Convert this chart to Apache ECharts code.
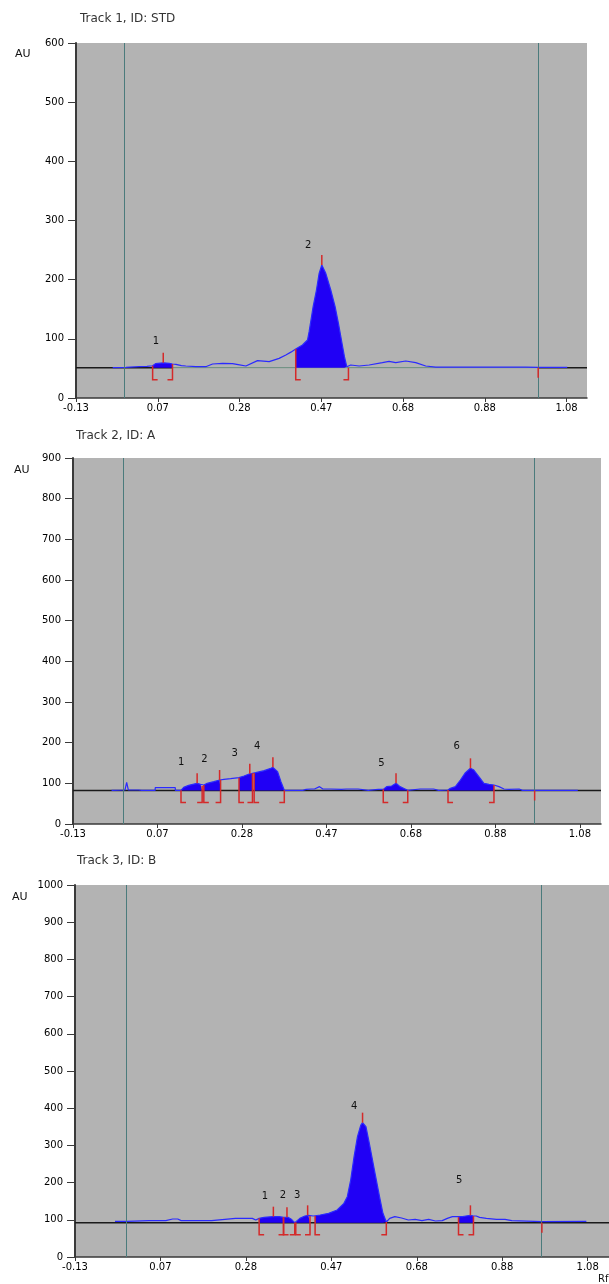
<!DOCTYPE html>
<html><head><meta charset="utf-8">
<script src="https://cdn.jsdelivr.net/npm/echarts@6/dist/echarts.min.js"></script>
<style>html,body{margin:0;padding:0;background:#fff}#c{width:609px;height:1284px}</style>
</head><body><div id="c"></div>
<script>
// ---------- shared axis data ----------
const xTickValues = [-0.13, 0.0717, 0.2733, 0.475, 0.6767, 0.8783, 1.08];
const xTickLabels = ['-0.13', '0.07', '0.28', '0.47', '0.68', '0.88', '1.08'];
const xRange = [-0.13, 1.1304];
const yMaxes = [600, 900, 1000];
const yInterval = 100;
const trackTitles = ['Track 1, ID: STD', 'Track 2, ID: A', 'Track 3, ID: B'];

// ---------- Track 1 (STD) ----------
const curve1 = [[-0.0396,51.3],[-0.0068,51.6],[0.026,52.9],[0.045,53.5],[0.059,54.5],[0.066,58.0],[0.0852,59.5],[0.100,58.6],[0.108,57.5],[0.1165,56.9],[0.130,54.7],[0.141,54.1],[0.1657,52.9],[0.190,52.9],[0.2068,57.5],[0.2315,58.6],[0.256,58.0],[0.270,56.5],[0.289,54.1],[0.3177,63.1],[0.3465,61.4],[0.371,67.0],[0.3876,72.7],[0.400,77.5],[0.412,82.8],[0.4286,89.6],[0.441,98.0],[0.445,112.1],[0.4549,154.4],[0.4631,182.5],[0.4697,210.7],[0.4763,224.8],[0.4861,210.7],[0.4984,182.5],[0.5091,154.4],[0.5173,126.2],[0.5247,98.0],[0.5321,69.9],[0.5379,52.9],[0.542,51.3],[0.5477,55.8],[0.5683,54.1],[0.593,55.8],[0.6258,59.7],[0.6422,61.9],[0.6586,59.7],[0.6833,62.5],[0.708,59.7],[0.7326,54.1],[0.7572,52.3],[0.8558,52.3],[0.979,52.3],[1.01,51.6],[1.0817,51.6]];
const baseline1 = 51.3;
const peakStart1 = [0.059, 0.412];
const peakEnd1 = [0.108, 0.542];
const peakMaxX1 = [0.0852, 0.4763];
const peakMaxY1 = [59.5, 224.8];
const peakLabel1 = ['1', '2'];
const peakLabelX1 = [0.0672, 0.4425];
const peakLabelY1 = [96.3, 257.4];
const startLine1 = -0.0068, frontLine1 = 1.01;

// ---------- Track 2 (A) ----------
const curve2 = [[-0.0379,82.8],[-0.0059,83.6],[-0.0019,102.5],[0.0021,83.6],[0.0261,83.6],[0.0301,85.2],[0.0341,82.8],[0.0662,82.8],[0.0662,89.3],[0.1142,89.3],[0.1142,82.8],[0.1278,82.8],[0.1342,90.1],[0.1462,95.1],[0.1663,100.0],[0.1743,97.6],[0.1783,93.4],[0.1823,95.9],[0.1903,100.0],[0.2063,104.1],[0.2199,108.2],[0.2223,108.2],[0.2303,109.8],[0.2463,111.5],[0.2663,113.9],[0.2784,118.0],[0.2904,122.9],[0.292,123.5],[0.2984,124.6],[0.3024,125.5],[0.3064,126.2],[0.3264,131.1],[0.3424,136.9],[0.3472,139.3],[0.3584,128.7],[0.3664,104.1],[0.3744,82.8],[0.4185,82.8],[0.4185,85.2],[0.4265,85.2],[0.4265,82.8],[0.4385,86.1],[0.4465,86.1],[0.4585,91.8],[0.4665,86.1],[0.4865,86.1],[0.5106,85.2],[0.5226,86.1],[0.5506,86.1],[0.5746,82.8],[0.5986,85.2],[0.6106,85.2],[0.6187,91.8],[0.6307,93.4],[0.6411,100.0],[0.6507,91.8],[0.6627,86.1],[0.6691,82.8],[0.6987,86.1],[0.7308,86.1],[0.7428,82.8],[0.7652,83.6],[0.7708,87.7],[0.7828,91.8],[0.7948,108.2],[0.8068,126.2],[0.8188,136.9],[0.8268,132.8],[0.8388,116.4],[0.8509,100.0],[0.8629,97.6],[0.8749,95.9],[0.8869,91.8],[0.8989,86.1],[0.9109,85.2],[0.9349,86.1],[0.9429,82.8],[0.972,82.8],[1.075,82.8]];
const baseline2 = 82.4;
const peakStart2 = [0.1278, 0.1823, 0.2663, 0.3024, 0.6106, 0.7652];
const peakEnd2 = [0.1783, 0.2223, 0.2984, 0.3744, 0.6691, 0.8749];
const peakMaxX2 = [0.1663, 0.2199, 0.292, 0.3472, 0.6411, 0.8188];
const peakMaxY2 = [100.0, 108.2, 123.5, 139.3, 100.0, 136.9];
const peakLabel2 = ['1', '2', '3', '4', '5', '6'];
const peakLabelX2 = [0.1285, 0.184, 0.256, 0.3097, 0.606, 0.7856];
const peakLabelY2 = [150.7, 160, 174.6, 190, 150, 190];
const startLine2 = -0.0063, frontLine2 = 0.972;

// ---------- Track 3 (B) ----------
const curve3 = [[-0.0356,95.9],[-0.0075,95.9],[0.0445,97.7],[0.0845,97.7],[0.1005,102.1],[0.1125,102.1],[0.1205,97.7],[0.1926,97.7],[0.2486,103.9],[0.2886,103.9],[0.2966,99.4],[0.3046,103.9],[0.3166,106.6],[0.3366,108.4],[0.3526,108.4],[0.3622,106.6],[0.3727,106.6],[0.3807,101.2],[0.3887,92.3],[0.3911,93.2],[0.4007,103.9],[0.4127,110.2],[0.4207,112.0],[0.4247,110.2],[0.4327,110.2],[0.4367,110.2],[0.4487,112.9],[0.4687,117.4],[0.4887,126.3],[0.5047,144.2],[0.5127,162.1],[0.5207,206.9],[0.5287,269.6],[0.5367,323.4],[0.5447,354.8],[0.5487,361.1],[0.5567,350.3],[0.5647,305.5],[0.5767,233.8],[0.5888,162.1],[0.5968,117.4],[0.6048,94.1],[0.6128,103.9],[0.6248,108.4],[0.6408,104.8],[0.6568,99.4],[0.6728,101.2],[0.6888,97.7],[0.7048,101.2],[0.7208,96.8],[0.7368,97.7],[0.7488,103.9],[0.7608,108.4],[0.7728,108.4],[0.7752,106.6],[0.7848,108.4],[0.7928,110.2],[0.8033,112.0],[0.8105,110.2],[0.8169,110.2],[0.8249,106.6],[0.8409,103.9],[0.8649,101.2],[0.8849,101.2],[0.9009,97.7],[0.972,95.0],[1.077,95.9]];
const baseline3 = 92.3;
const peakStart3 = [0.3046, 0.3622, 0.3911, 0.4367, 0.7752];
const peakEnd3 = [0.3622, 0.3887, 0.4247, 0.6048, 0.8105];
const peakMaxX3 = [0.3382, 0.3703, 0.4191, 0.5487, 0.8033];
const peakMaxY3 = [108.4, 106.6, 112.0, 361.1, 112.0];
const peakLabel3 = ['1', '2', '3', '4', '5'];
const peakLabelX3 = [0.3182, 0.3606, 0.3943, 0.5287, 0.7769];
const peakLabelY3 = [164, 166.7, 166.7, 404, 207];
const startLine3 = -0.0076, frontLine3 = 0.972;

// ---------- styling / layout ----------
const FONT = 'DejaVu Sans';
const BLUE_FILL = '#2000f5';
const BLUE_LINE = '#2a2aff';
const RED = '#d42a2a';
const TEAL = '#4b7b7c';
const GRAY_BG = '#b3b3b3';
const gridsPos = [
  {left: 76, top: 43, width: 511, height: 355},
  {left: 73, top: 458, width: 528, height: 366},
  {left: 75, top: 885, width: 536, height: 372}
];
const titlePos = [{left: 80, top: 13}, {left: 76, top: 430}, {left: 77, top: 855}];
const auPos = [{left: 15, top: 49}, {left: 14, top: 465}, {left: 12, top: 892}];

const panels = [
  {curve: curve1, base: baseline1, ps: peakStart1, pe: peakEnd1, mx: peakMaxX1, my: peakMaxY1, lab: peakLabel1, lx: peakLabelX1, ly: peakLabelY1, start: startLine1, front: frontLine1},
  {curve: curve2, base: baseline2, ps: peakStart2, pe: peakEnd2, mx: peakMaxX2, my: peakMaxY2, lab: peakLabel2, lx: peakLabelX2, ly: peakLabelY2, start: startLine2, front: frontLine2},
  {curve: curve3, base: baseline3, ps: peakStart3, pe: peakEnd3, mx: peakMaxX3, my: peakMaxY3, lab: peakLabel3, lx: peakLabelX3, ly: peakLabelY3, start: startLine3, front: frontLine3}
];

function curveAt(curve, x) {
  const p = curve.find(q => Math.abs(q[0] - x) < 1e-9);
  return p ? p[1] : null;
}

const grid = [], xAxis = [], yAxis = [], series = [], title = [];

panels.forEach((P, i) => {
  grid.push(Object.assign({show: true, backgroundColor: GRAY_BG, borderWidth: 0, containLabel: false}, gridsPos[i]));
  title.push({text: trackTitles[i], left: titlePos[i].left, top: titlePos[i].top, padding: 0,
    textStyle: {fontFamily: FONT, fontSize: 12, fontWeight: 'normal', color: '#333'}});
  title.push({text: 'AU', left: auPos[i].left, top: auPos[i].top, padding: 0,
    textStyle: {fontFamily: FONT, fontSize: 11, fontWeight: 'normal', color: '#111'}});
  xAxis.push({
    type: 'value', gridIndex: i, min: xRange[0], max: xRange[1],
    splitLine: {show: false},
    axisLine: {show: true, onZero: false, lineStyle: {color: '#3a3a3a', width: 1.5}},
    axisTick: {show: true, customValues: xTickValues, length: 4, lineStyle: {color: '#3a3a3a'}},
    axisLabel: {show: true, customValues: xTickValues, margin: 5, color: '#000', fontFamily: FONT, fontSize: 10,
      formatter: v => { const k = xTickValues.findIndex(t => Math.abs(t - v) < 1e-6); return k >= 0 ? xTickLabels[k] : ''; }}
  });
  yAxis.push({
    type: 'value', gridIndex: i, min: 0, max: yMaxes[i], interval: yInterval,
    splitLine: {show: false},
    axisLine: {show: true, onZero: false, lineStyle: {color: '#3a3a3a', width: 2}},
    axisTick: {show: true, length: 8, lineStyle: {color: '#3a3a3a'}},
    axisLabel: {margin: 12, color: '#000', fontFamily: FONT, fontSize: 10, formatter: v => String(v)}
  });

  const common = {xAxisIndex: i, yAxisIndex: i, animation: false, silent: true};

  // baseline
  let baseSegs;
  if (i === 0) {
    baseSegs = [
      [[xRange[0], P.base], [P.pe[0], P.base], '#1a1a1a', 1.5],
      [[P.pe[0], P.base], [P.front, P.base], '#6b8e7f', 1],
      [[P.front, P.base], [xRange[1], P.base], '#1a1a1a', 1.5]
    ];
  } else {
    baseSegs = [[[xRange[0], P.base], [xRange[1], P.base], '#1a1a1a', 1.5]];
  }
  baseSegs.forEach(s => {
    series.push(Object.assign({type: 'line', data: [s[0], s[1]], symbol: 'none', z: 2,
      lineStyle: {color: s[2], width: s[3]}}, common));
  });

  // filled peaks
  P.ps.forEach((s, k) => {
    const e = P.pe[k];
    const seg = P.curve.filter(q => q[0] >= s - 1e-9 && q[0] <= e + 1e-9);
    series.push(Object.assign({type: 'line', data: seg, symbol: 'none', z: 3,
      lineStyle: {width: 0, opacity: 0},
      areaStyle: {color: BLUE_FILL, opacity: 1, origin: P.base}}, common));
  });

  // curve with start/front lines
  series.push(Object.assign({type: 'line', data: P.curve, symbol: 'none', z: 4,
    lineStyle: {color: BLUE_LINE, width: 1.2},
    markLine: {symbol: 'none', silent: true, label: {show: false}, animation: false,
      lineStyle: {color: TEAL, width: 1, type: 'solid'},
      data: [{xAxis: P.start}, {xAxis: P.front}]}}, common));

  // brackets + front marker
  const br = [];
  P.ps.forEach((s, k) => {
    br.push([s, curveAt(P.curve, s) ?? P.base, 1, P.base]);
    const e = P.pe[k];
    br.push([e, curveAt(P.curve, e) ?? P.base, -1, P.base]);
  });
  br.push([P.front, P.base, 0, P.base]);
  series.push(Object.assign({type: 'custom', data: br, z: 6, clip: false,
    renderItem: (params, api) => {
      const x = api.value(0), yt = api.value(1), dir = api.value(2), b = api.value(3);
      const pt = api.coord([x, Math.max(yt, b)]);
      const pb = api.coord([x, b]);
      const yb = pb[1] + (dir === 0 ? 10 : 12);
      const pts = dir === 0 ? [[pt[0], pt[1]], [pt[0], yb]]
        : [[pt[0], pt[1]], [pt[0], yb], [pt[0] + dir * 5, yb]];
      return {type: 'polyline', shape: {points: pts}, style: {stroke: RED, lineWidth: 1.5, fill: null}};
    }}, common));

  // peak maximum ticks
  series.push(Object.assign({type: 'custom', data: P.mx.map((x, k) => [x, P.my[k]]), z: 6,
    renderItem: (params, api) => {
      const p = api.coord([api.value(0), api.value(1)]);
      return {type: 'line', shape: {x1: p[0], y1: p[1], x2: p[0], y2: p[1] - 10}, style: {stroke: RED, lineWidth: 1.5}};
    }}, common));

  // peak number labels
  const labs = P.lab;
  series.push(Object.assign({type: 'custom', data: P.lx.map((x, k) => [x, P.ly[k]]), z: 7,
    renderItem: (params, api) => {
      const p = api.coord([api.value(0), api.value(1)]);
      return {type: 'text', x: p[0], y: p[1], style: {text: labs[params.dataIndex], align: 'center', verticalAlign: 'middle',
        fontFamily: FONT, fontSize: 10, fill: '#111'}};
    }}, common));
});

title.push({text: 'Rf', left: 598, top: 1274, padding: 0, textStyle: {fontFamily: FONT, fontSize: 10, fontWeight: 'normal', color: '#111'}});

const chart = echarts.init(document.getElementById('c'), null, {renderer: 'canvas'});
chart.setOption({animation: false, backgroundColor: '#fff', title, grid, xAxis, yAxis, series});
</script></body></html>
